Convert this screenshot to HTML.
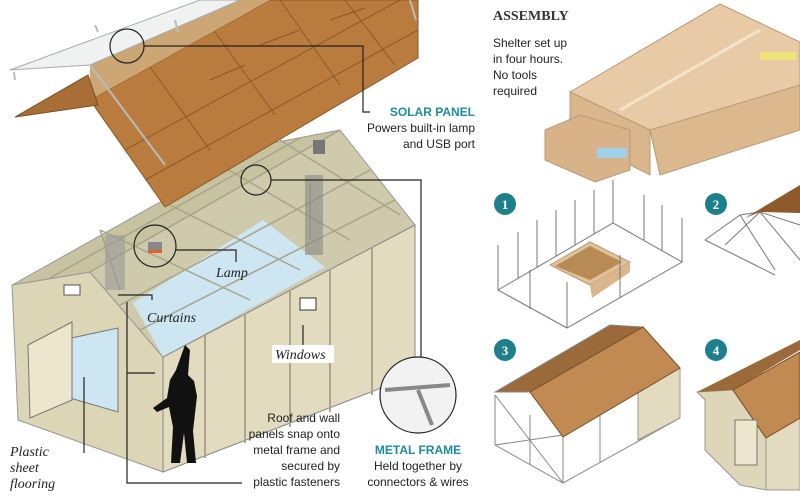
<!DOCTYPE html>
<html><head><meta charset="utf-8"><style>
body{margin:0;background:#fff;width:800px;height:501px;overflow:hidden;font-family:"Liberation Sans",sans-serif}
svg{position:absolute;left:0;top:0}
.t{font-family:"Liberation Sans",sans-serif;font-size:12px;fill:#222}
.i{font-family:"Liberation Serif",serif;font-style:italic;font-size:14px;fill:#222}
.h{font-family:"Liberation Sans",sans-serif;font-weight:bold;font-size:12px;fill:#1e8c9c}
</style></head><body>
<svg width="800" height="501" viewBox="0 0 800 501">
<!-- House -->
<polygon points="12,285 90,272 163,357 163,472 18,420" fill="#dcd5b6" stroke="#999"/>
<polygon points="12,285 90,272 340,130 262,145" fill="#c7c2a0" stroke="#999"/>
<polygon points="90,272 163,357 415,225 340,130" fill="#cfcaab" stroke="#999"/>
<polygon points="133,303 263,220 325,267 163,357" fill="#cde6f2"/>
<polygon points="163,357 415,225 415,375 163,472" fill="#e2dbc0" stroke="#888"/>
<g stroke="#aaa58c" stroke-width="2">
<line x1="205" y1="335" x2="205" y2="458"/><line x1="245" y1="314" x2="245" y2="443"/><line x1="290" y1="290" x2="290" y2="427"/><line x1="330" y1="269" x2="330" y2="412"/><line x1="372" y1="247" x2="372" y2="395"/>
</g>
<g stroke="#a9a48b" stroke-width="1.5" fill="none">
<line x1="90" y1="272" x2="340" y2="130"/><line x1="50" y1="278" x2="300" y2="138"/>
<line x1="120" y1="305" x2="370" y2="170"/><line x1="140" y1="330" x2="395" y2="200"/>
<line x1="100" y1="230" x2="250" y2="300"/><line x1="160" y1="200" x2="300" y2="270"/><line x1="220" y1="165" x2="350" y2="240"/><line x1="280" y1="140" x2="400" y2="215"/>
<line x1="100" y1="230" x2="120" y2="290"/><line x1="310" y1="185" x2="310" y2="240"/></g>
<rect x="105" y="235" width="20" height="55" fill="#999" opacity="0.6"/>
<rect x="305" y="175" width="18" height="80" fill="#888" opacity="0.6"/>
<polygon points="62,340 118,328 118,412 70,398" fill="#cde6f2" stroke="#777"/>
<polygon points="28,345 72,322 72,400 30,418" fill="#ece7cc" stroke="#777"/>
<rect x="64" y="285" width="16" height="10" fill="#fff" stroke="#555"/>
<rect x="300" y="298" width="16" height="12" fill="#fff" stroke="#333"/>
<rect x="313" y="140" width="12" height="14" fill="#777"/>
<!-- Roof exploded (on top) -->
<polygon points="90,65 240,0 418,0 418,55 165,207 90,100" fill="#cf9f6c"/>
<polygon points="90,100 270,0 300,0 418,0 418,58 165,207" fill="#b97b3e" stroke="#8a5a2a"/>
<polygon points="90,100 90,65 240,0 270,0" fill="#cda676"/>
<polygon points="15,117 88,75 98,105" fill="#a86e36" stroke="#7a4d22"/>
<polygon points="10,70 200,0 240,0 90,65" fill="#f0f1f1" stroke="#aaa"/>
<g stroke="#8a5a2a" stroke-width="1" fill="none">
<line x1="125" y1="150" x2="400" y2="0"/><line x1="145" y1="180" x2="418" y2="30"/>
<line x1="150" y1="67" x2="210" y2="150"/><line x1="215" y1="32" x2="275" y2="115"/><line x1="280" y1="0" x2="340" y2="85"/><line x1="345" y1="0" x2="395" y2="65"/>
<line x1="210" y1="80" x2="245" y2="65"/><line x1="260" y1="45" x2="300" y2="30"/><line x1="330" y1="20" x2="365" y2="8"/>
</g>
<g stroke="#bbb" stroke-width="2"><line x1="90" y1="65" x2="165" y2="165"/><line x1="14" y1="72" x2="15" y2="80"/><line x1="95" y1="25" x2="98" y2="32"/><line x1="175" y1="20" x2="178" y2="32"/><line x1="410" y1="0" x2="416" y2="20"/></g>
<!-- person -->
<path d="M185,345 l5,5 -2,25 6,6 3,15 -4,35 3,32 -9,0 -3,-30 -4,30 -9,0 2,-36 -4,-20 -12,5 -4,-4 14,-10 3,-18 6,-10 z" fill="#111"/>
<!-- circles/leaders -->
<g fill="none" stroke="#222" stroke-width="1.2">
<circle cx="127" cy="46" r="17"/><polyline points="144,46 363,46 363,112 370,112"/>
<circle cx="155" cy="246" r="21"/><polyline points="176,250 236,250 236,262"/>
<circle cx="256" cy="180" r="15"/><polyline points="271,180 421,180 421,358"/>
<circle cx="418" cy="395" r="38" fill="#f2f2f2"/>
<polyline points="152,300 152,295 118,295"/>
<polyline points="84,453 84,377"/>
<line x1="303" y1="345" x2="303" y2="325"/>
<polyline points="127,302 127,483 242,483"/>
<line x1="127" y1="373" x2="155" y2="373"/>
</g>
<rect x="148" y="242" width="14" height="8" fill="#888"/><rect x="148" y="250" width="14" height="3" fill="#e0602a"/>
<g stroke="#888" stroke-width="4"><line x1="385" y1="390" x2="450" y2="385"/><line x1="418" y1="390" x2="432" y2="425"/></g>
<!-- labels -->
<text x="475" y="116" class="h" text-anchor="end">SOLAR PANEL</text>
<text x="475" y="132" class="t" text-anchor="end">Powers built-in lamp</text>
<text x="475" y="148" class="t" text-anchor="end">and USB port</text>
<text x="216" y="277" class="i">Lamp</text>
<text x="147" y="322" class="i">Curtains</text>
<rect x="272" y="345" width="62" height="18" fill="#fff"/>
<text x="275" y="359" class="i">Windows</text>
<text x="10" y="456" class="i">Plastic</text><text x="10" y="472" class="i">sheet</text><text x="10" y="488" class="i">flooring</text>
<text x="340" y="422" class="t" text-anchor="end">Roof and wall</text>
<text x="340" y="438" class="t" text-anchor="end">panels snap onto</text>
<text x="340" y="454" class="t" text-anchor="end">metal frame and</text>
<text x="340" y="470" class="t" text-anchor="end">secured by</text>
<text x="340" y="486" class="t" text-anchor="end">plastic fasteners</text>
<text x="418" y="454" class="h" text-anchor="middle">METAL FRAME</text>
<text x="418" y="470" class="t" text-anchor="middle">Held together by</text>
<text x="418" y="486" class="t" text-anchor="middle">connectors &amp; wires</text>
<!-- Assembly -->
<text x="493" y="20" font-family="Liberation Serif,serif" font-weight="bold" font-size="14" fill="#333">ASSEMBLY</text>
<text x="493" y="47" class="t">Shelter set up</text>
<text x="493" y="63" class="t">in four hours.</text>
<text x="493" y="79" class="t">No tools</text>
<text x="493" y="95" class="t">required</text>
<polygon points="570,92 720,4 800,42 800,90 650,130" fill="#e8cba6" stroke="#b89a76"/>
<polygon points="570,92 650,130 650,175 570,135" fill="#d9b68c" stroke="#b89a76"/>
<polygon points="650,130 800,85 800,130 660,175" fill="#dcb88e" stroke="#b89a76"/>
<line x1="620" y1="110" x2="760" y2="30" stroke="#f4e3cc" stroke-width="3"/>
<polygon points="545,130 580,115 630,130 630,170 595,182 545,160" fill="#d8b38a" stroke="#b89a76"/>
<rect x="597" y="148" width="30" height="10" fill="#9fd2ea"/>
<rect x="760" y="52" width="36" height="8" fill="#f0e27a"/>
<!-- steps -->
<g fill="#1e7f8c"><circle cx="505" cy="204" r="11"/><circle cx="716" cy="204" r="11"/><circle cx="505" cy="350" r="11"/><circle cx="716" cy="350" r="11"/></g>
<g fill="#fff" font-family="Liberation Serif,serif" font-weight="bold" font-size="13" text-anchor="middle"><text x="505" y="209">1</text><text x="716" y="209">2</text><text x="505" y="355">3</text><text x="716" y="355">4</text></g>
<!-- step1 -->
<polygon points="550,265 590,242 630,262 590,285" fill="#e0c29a" stroke="#b89a76"/>
<polygon points="555,266 590,246 622,262 590,280" fill="#b88a55"/>
<polygon points="590,285 630,262 630,272 592,298" fill="#d9b68c"/>
<g stroke="#777" stroke-width="1" fill="none">
<polygon points="498,290 613,223 682,262 567,328"/>
<line x1="498" y1="290" x2="498" y2="245"/><line x1="518" y1="278" x2="518" y2="232"/><line x1="537" y1="267" x2="537" y2="220"/><line x1="556" y1="256" x2="556" y2="210"/><line x1="575" y1="245" x2="575" y2="200"/><line x1="594" y1="234" x2="594" y2="190"/><line x1="613" y1="223" x2="613" y2="180"/>
<line x1="644" y1="240" x2="644" y2="195"/><line x1="682" y1="262" x2="682" y2="218"/><line x1="662" y1="251" x2="662" y2="205"/>
<line x1="567" y1="328" x2="567" y2="282"/><line x1="530" y1="309" x2="530" y2="270"/><line x1="620" y1="298" x2="620" y2="255"/>
</g>
<!-- step2 -->
<g stroke="#777" stroke-width="1" fill="none">
<polyline points="705,240 740,215 760,212 800,225"/><polyline points="705,240 755,265 775,275"/><line x1="740" y1="215" x2="775" y2="270"/><line x1="760" y1="212" x2="800" y2="260"/><line x1="725" y1="245" x2="760" y2="212"/>
</g>
<polygon points="745,218 800,185 800,213 760,212" fill="#8e5a2c"/>
<!-- step3 -->
<g stroke="#888" stroke-width="1" fill="none">
<polyline points="495,395 495,445 563,483 680,418 680,368"/>
<line x1="563" y1="435" x2="563" y2="483"/><line x1="530" y1="415" x2="530" y2="465"/><line x1="600" y1="415" x2="600" y2="462"/><line x1="640" y1="392" x2="640" y2="440"/>
<line x1="495" y1="395" x2="563" y2="483"/><line x1="563" y1="435" x2="495" y2="445"/>
</g>
<polygon points="638,390 680,368 680,418 638,440" fill="#e2dbc0" stroke="#999"/>
<polygon points="495,392 610,325 643,327 530,392" fill="#9b6a3a" stroke="#888"/>
<polygon points="530,392 643,327 680,368 563,437" fill="#c08a52" stroke="#7a4d22"/>
<!-- step4 -->
<polygon points="697,392 733,390 766,438 766,490 740,485 705,450 705,400" fill="#ddd6b8" stroke="#999"/>
<polygon points="766,438 800,418 800,490 766,490" fill="#e2dbc0" stroke="#999"/>
<polygon points="697,392 800,340 800,350 733,390" fill="#9b6a3a"/>
<polygon points="733,390 800,352 800,418 766,438" fill="#c08a52" stroke="#7a4d22"/>
<rect x="735" y="420" width="22" height="45" fill="#ece7cc" stroke="#777"/>
</svg>
</body></html>
